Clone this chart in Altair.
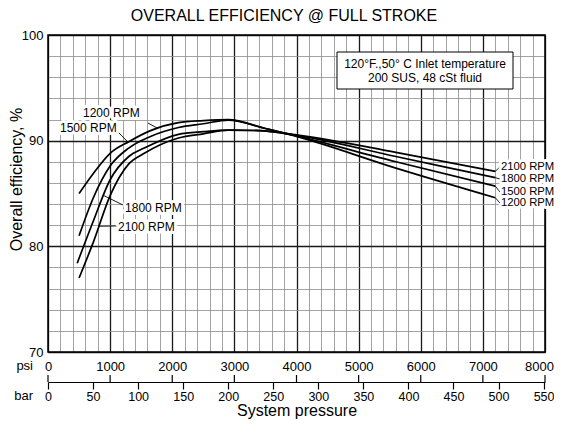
import altair as alt
import pandas as pd

FONT = "Liberation Sans"

# ---------------- data ----------------
rpm_names = ["1200 RPM", "1500 RPM", "1800 RPM", "2100 RPM"]

psi_1200 = [500, 730, 1000, 1300, 1650, 2100, 2500, 2900, 3500, 4000, 5600, 7200]
eff_1200 = [85.0, 86.9, 88.8, 89.9, 90.95, 91.7, 91.9, 92.0, 91.15, 90.4, 87.4, 84.6]

psi_1500 = [500, 730, 1000, 1300, 1650, 2100, 2500, 2900, 3500, 4000, 5600, 7200]
eff_1500 = [81.0, 84.6, 87.6, 89.3, 90.4, 91.25, 91.6, 91.95, 91.15, 90.45, 88.0, 85.7]

psi_1800 = [470, 730, 1000, 1300, 1550, 2100, 2500, 2900, 3400, 4000, 5600, 7200]
eff_1800 = [78.4, 82.4, 86.3, 88.5, 89.3, 90.6, 90.85, 91.0, 90.95, 90.5, 88.5, 86.5]

psi_2100 = [500, 730, 1000, 1300, 1550, 2100, 2500, 2900, 3400, 4000, 5600, 7200]
eff_2100 = [77.0, 80.4, 84.8, 87.8, 88.8, 90.25, 90.65, 91.0, 90.95, 90.55, 88.9, 87.1]

# axis tick values
psi_grid = list(range(0, 8001, 200))
psi_major = list(range(0, 8001, 1000))
eff_grid = list(range(70, 101, 2))
bar_ticks = list(range(0, 551, 50))
PSI_PER_BAR = 14.5038

# curve labels (annotation anchors, in data units)
left_label_psi = [563, 193, 1240, 1127]
left_label_eff = [92.62, 91.2, 83.63, 81.83]
left_lead_psi = [1610, 1127, 900, 810]
left_lead_eff = [91.67, 90.82, 84.8, 81.9]
left_lead_psi2 = [1755, 1288, 1207, 1111]
left_lead_eff2 = [91.2, 89.87, 83.91, 81.93]

right_label_psi = [7290, 7290, 7290, 7290]
right_label_eff = [84.1, 85.14, 86.37, 87.51]   # 1200, 1500, 1800, 2100
right_lead_psi = [7200, 7200, 7200, 7200]
right_lead_psi2 = [7275, 7275, 7275, 7275]

title_text = "OVERALL EFFICIENCY @ FULL STROKE"
note_lines = ["120°F.,50° C Inlet temperature", "200 SUS, 48 cSt fluid"]

# ---------------- tables ----------------
series = [(psi_1200, eff_1200), (psi_1500, eff_1500),
          (psi_1800, eff_1800), (psi_2100, eff_2100)]
rows = []
for name, (ps, es) in zip(rpm_names, series):
    for p, e in zip(ps, es):
        rows.append({"rpm": name, "psi": p, "eff": e})
df_curves = pd.DataFrame(rows)

end_eff = [s[1][-1] for s in series]
df_left = pd.DataFrame({"label": rpm_names, "psi": left_label_psi, "eff": left_label_eff})
df_right = pd.DataFrame({"label": rpm_names, "psi": right_label_psi, "eff": right_label_eff})
df_leaders = pd.DataFrame({
    "psi": left_lead_psi + right_lead_psi,
    "eff": left_lead_eff + end_eff,
    "psi2": left_lead_psi2 + right_lead_psi2,
    "eff2": left_lead_eff2 + right_label_eff,
})
df_major = pd.DataFrame({"psi": psi_major})
one = pd.DataFrame({"k": [0]})

W, H = 497, 317

x_scale = alt.Scale(domain=[0, 8000], nice=False, zero=False)
y_scale = alt.Scale(domain=[70, 100], nice=False, zero=False)

x_axis = alt.Axis(
    values=psi_grid, format="d",
    labelExpr="datum.value % 1000 === 0 ? datum.label : ''",
    labelOffset={"condition": {"test": "datum.value === 8000", "value": -6}, "value": 0},
    ticks=False, domain=False, grid=True,
    gridColor={"condition": {"test": "datum.value % 1000 === 0", "value": "#1a1a1a"}, "value": "#8c8c8c"},
    gridWidth={"condition": {"test": "datum.value % 1000 === 0", "value": 1.3}, "value": 0.8},
    labelFont=FONT, labelFontSize=13, labelColor="black", labelPadding=8,
    labelOverlap=False, labelFlush=False, title=None,
)
y_axis = alt.Axis(
    values=eff_grid,
    labelExpr="datum.value % 10 === 0 ? datum.label : ''",
    ticks=False, domain=False, grid=True,
    gridColor={"condition": {"test": "datum.value % 10 === 0", "value": "#1a1a1a"}, "value": "#8c8c8c"},
    gridWidth={"condition": {"test": "datum.value % 10 === 0", "value": 1.3}, "value": 0.8},
    labelFont=FONT, labelFontSize=13, labelColor="black", labelPadding=5,
    labelOverlap=False, labelFlush=False,
    title="Overall efficiency, %", titleFont=FONT, titleFontSize=16,
    titleFontWeight="normal", titleColor="black",
    titleX=-32, titleY=144, titleAngle=270, titleBaseline="middle",
)

X = alt.X("psi:Q", scale=x_scale, axis=x_axis)
Y = alt.Y("eff:Q", scale=y_scale, axis=y_axis)

curves = alt.Chart(df_curves).mark_line(
    color="black", strokeWidth=1.7, interpolate="monotone"
).encode(x=X, y=Y, detail="rpm:N")

border = alt.Chart(one).mark_rect(
    fillOpacity=0, stroke="black", strokeWidth=1.5
).encode(x=alt.value(0), x2=alt.value(W), y=alt.value(0), y2=alt.value(H))

leaders = alt.Chart(df_leaders).mark_rule(color="black", strokeWidth=0.9).encode(
    x=X, y=Y, x2="psi2:Q", y2="eff2:Q")


def text_pair(df, size):
    halo = alt.Chart(df).mark_text(
        align="left", baseline="middle", font=FONT, fontSize=size,
        color="white", stroke="white", strokeWidth=6, strokeJoin="round",
    ).encode(x=X, y=Y, text="label:N")
    txt = alt.Chart(df).mark_text(
        align="left", baseline="middle", font=FONT, fontSize=size, color="black",
    ).encode(x=X, y=Y, text="label:N")
    return [halo, txt]


box = alt.Chart(one).mark_rect(fill="white", stroke="black", strokeWidth=1).encode(
    x=alt.value(289), x2=alt.value(465), y=alt.value(17), y2=alt.value(54))

note1 = alt.Chart(one).mark_text(
    align="center", baseline="middle", font=FONT, fontSize=12, color="black",
    text=note_lines[0]).encode(x=alt.value(377), y=alt.value(29))
note2 = alt.Chart(one).mark_text(
    align="center", baseline="middle", font=FONT, fontSize=12, color="black",
    text=note_lines[1]).encode(x=alt.value(377), y=alt.value(43))

title_mark = alt.Chart(one).mark_text(
    align="center", baseline="alphabetic", font=FONT, fontSize=16, color="black",
    text=title_text).encode(x=alt.value(236), y=alt.value(-14))

psi_up_ticks = alt.Chart(df_major).mark_rule(color="black", strokeWidth=1.2).encode(
    x=X, y=alt.value(347), y2=alt.value(340))

psi_word = alt.Chart(one).mark_text(
    align="right", baseline="middle", font=FONT, fontSize=13, color="black",
    text="psi").encode(x=alt.value(-15), y=alt.value(331))
bar_word = alt.Chart(one).mark_text(
    align="right", baseline="middle", font=FONT, fontSize=13, color="black",
    text="bar").encode(x=alt.value(-15), y=alt.value(361))

psi_layers = alt.layer(curves, border, leaders,
                       *text_pair(df_left, 12), *text_pair(df_right, 11.3),
                       box, note1, note2, title_mark,
                       psi_up_ticks, psi_word, bar_word)

bar_axis = alt.Axis(
    values=bar_ticks, orient="bottom", offset=30,
    tickSize=7, tickColor="black", tickWidth=1.2,
    domain=True, domainColor="black", domainWidth=1.2,
    grid=False, labelFont=FONT, labelFontSize=12.5, labelColor="black",
    labelPadding=1, labelOverlap=False, labelFlush=False,
    title="System pressure", titleFont=FONT, titleFontSize=16,
    titleFontWeight="normal", titleColor="black", titlePadding=0,
)
bar_layer = alt.Chart(pd.DataFrame({"bar": bar_ticks})).mark_point(opacity=0).encode(
    x=alt.X("bar:Q", scale=alt.Scale(domain=[0, 8000 / PSI_PER_BAR], nice=False, zero=True),
            axis=bar_axis))

chart = alt.layer(psi_layers, bar_layer).resolve_scale(x="independent").properties(
    width=W, height=H,
    padding={"left": 40, "top": 27, "right": 9, "bottom": 68},
    autosize=alt.AutoSizeParams(type="none"),
    background="white",
).configure_view(strokeWidth=0)

chart.save("out.html", embed_options={"renderer": "svg", "actions": False})
